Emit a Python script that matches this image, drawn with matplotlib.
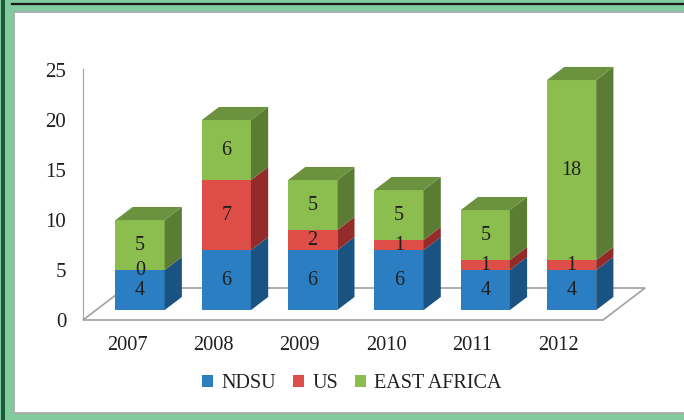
import numpy as np
import matplotlib as mpl
mpl.use('Agg')
import matplotlib.pyplot as plt
from matplotlib.patches import Polygon, Rectangle, Patch

# data
years = ['2007', '2008', '2009', '2010', '2011', '2012']
ndsu = [4, 6, 6, 6, 4, 4]
us = [0, 7, 2, 1, 1, 1]
east_africa = [5, 6, 5, 5, 5, 18]
series_names = ['NDSU', 'US', 'EAST AFRICA']
y_ticks = [0, 5, 10, 15, 20, 25]

# face colours: front, side, top
colours = [('#2A7EC1', '#1A5382', '#22659D'),
           ('#DF4D48', '#932B2A', '#B23A37'),
           ('#8BBE4F', '#5B7C33', '#6B923F')]

W, H = 684, 420
plt.rcParams['font.family'] = ['Liberation Serif', 'DejaVu Serif']

fig = plt.figure(figsize=(W / 100, H / 100), dpi=100)
fig.patch.set_facecolor('#82CB9F')


def px_box(x0, y0, x1, y1):
    # pixel box (top-left origin) -> figure fraction rect
    return (x0 / W, 1 - y1 / H, (x1 - x0) / W, (y1 - y0) / H)


# frame decorations
l, b, w, h = px_box(14, 12, W + 2, 413)
fig.add_artist(Rectangle((l, b), w, h, transform=fig.transFigure,
                         facecolor='white', edgecolor='#A8A8A8',
                         linewidth=1.2, zorder=-10))
l, b, w, h = px_box(1, 0, 4.5, H)
fig.add_artist(Rectangle((l, b), w, h, transform=fig.transFigure,
                         facecolor='#1F5B3B', edgecolor='none', zorder=-9))
fig.add_artist(plt.Line2D([12 / W, 1], [1 - 4.2 / H, 1 - 4.2 / H],
                          transform=fig.transFigure, color='#1A1A1A',
                          linewidth=1.6, zorder=-8))

# axes so that 0..25 maps onto px 320..70 and years onto 127 + 86.3*i
ax = fig.add_axes(px_box(83, 70, 603, 320))
ax.set_facecolor('none')
ax.set_xlim(-0.51, 5.515)
ax.set_ylim(0, 25)
for s in ['top', 'right', 'bottom']:
    ax.spines[s].set_visible(False)
ax.spines['left'].set_color('#A0A0A0')
ax.spines['left'].set_bounds(0, 25.1)
ax.set_yticks(y_ticks)
ax.set_xticks(range(len(years)))
ax.set_xticklabels(years)
ax.tick_params(axis='y', length=0, pad=12, labelsize=15, labelcolor='#202020')
ax.tick_params(axis='x', length=0, pad=11.5, labelsize=14.7, labelcolor='#202020')

# oblique depth (data units) for the 3D look
ox_full, oy_full = 0.487, 3.2
d1, d2 = 0.31, 0.72
dx, dy = (d2 - d1) * ox_full, (d2 - d1) * oy_full
bar_w = 0.57

# floor
x0, x1 = ax.get_xlim()
floor = Polygon([(x0, 0), (x1, 0), (x1 + ox_full, oy_full), (x0 + ox_full, oy_full)],
                closed=True, facecolor='white', edgecolor='#A0A0A0',
                linewidth=1.2, clip_on=False, zorder=1)
ax.add_patch(floor)

series = [ndsu, us, east_africa]
base = d1 * oy_full
for i in range(len(years)):
    xc = i + d1 * ox_full
    xl, xr = xc - bar_w / 2, xc + bar_w / 2
    bottom = base
    for k, vals in enumerate(series):
        v = vals[i]
        front, side, top = colours[k]
        if v > 0:
            ax.bar(xc, v, width=bar_w, bottom=bottom, color=front,
                   linewidth=0, zorder=2, clip_on=False)
            ax.add_patch(Polygon([(xr, bottom), (xr + dx, bottom + dy),
                                  (xr + dx, bottom + v + dy), (xr, bottom + v)],
                                 closed=True, facecolor=side, edgecolor='none',
                                 zorder=2, clip_on=False))
        ax.text(xc, bottom + v / 2, str(v), ha='center', va='center',
                fontsize=14.5, color='#202020', zorder=4)
        bottom += v
    # top face takes the colour of the last series
    ax.add_patch(Polygon([(xl, bottom), (xr, bottom), (xr + dx, bottom + dy),
                          (xl + dx, bottom + dy)], closed=True,
                         facecolor=colours[-1][2], edgecolor='none',
                         zorder=3, clip_on=False))

handles = [Patch(facecolor=c[0], edgecolor='none') for c in colours]
fig.legend(handles, series_names, loc='center', ncol=3, frameon=False,
           bbox_to_anchor=(352 / W, 1 - 384 / H), fontsize=14.5,
           handlelength=0.55, handleheight=0.55, handletextpad=0.4,
           columnspacing=0.85, labelcolor='#202020')

fig.savefig('out.png', dpi=100, facecolor=fig.get_facecolor())
